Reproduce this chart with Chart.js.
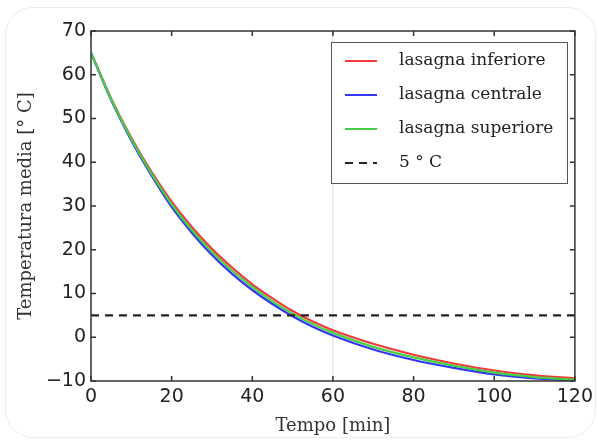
<!DOCTYPE html>
<html lang="it">
<head>
<meta charset="utf-8">
<title>Temperatura media lasagne</title>
<style>
  html, body { margin: 0; padding: 0; background: #fff; }
  #box { position: relative; width: 598px; height: 441px; }
  /* bordo arrotondato della "card" */
  #card { position: absolute; left: 5px; top: 7px; right: 2px; bottom: 3px; border: 1px solid #ececec; border-radius: 28px; }
  canvas { position: absolute; left: 0; top: 0; }
</style>
</head>
<body>
<div id="box">
  <div id="card"></div>
  <canvas id="grafico" width="598" height="441"></canvas>
</div>

<script src="https://cdn.jsdelivr.net/npm/chart.js@4.4.0/dist/chart.umd.min.js"></script>
<script>
// dati
var tempi     = [0, 5, 10, 15, 20, 25, 30, 35, 40, 45, 50, 55, 60, 70, 80, 90, 100, 110, 120];
var inferiore = [65, 54.6, 45.6, 37.8, 31.0, 25.2, 20.2, 15.9, 12.1, 8.9, 6.0, 3.6, 1.6, -1.5, -4.0, -6.0, -7.6, -8.7, -9.4];
var centrale  = [65, 54.2, 45.0, 37.0, 29.8, 23.9, 18.8, 14.5, 10.8, 7.6, 4.8, 2.4, 0.4, -2.8, -5.2, -7.0, -8.5, -9.4, -9.9];
var superiore = [65, 54.4, 45.3, 37.4, 30.4, 24.5, 19.5, 15.2, 11.5, 8.2, 5.4, 3.0, 1.0, -2.2, -4.6, -6.5, -8.1, -9.1, -9.7];
var soglia    = 5;
var xTicks = [0, 20, 40, 60, 80, 100, 120];
var yTicks = [-10, 0, 10, 20, 30, 40, 50, 60, 70];

function punti(ys) {
  var out = [];
  for (var i = 0; i < tempi.length; i++) out.push({ x: tempi[i], y: ys[i] });
  return out;
}

var serif = "'DejaVu Serif', 'Liberation Serif', serif";
var sans = "'DejaVu Sans', sans-serif";

// cornice con tacche verso l'interno + legenda dentro l'area
var cornice = {
  id: 'cornice',
  afterDatasetsDraw: function (chart) {
    var ctx = chart.ctx, a = chart.chartArea;
    var sx = chart.scales.x, sy = chart.scales.y;
    ctx.save();
    ctx.strokeStyle = '#333';
    ctx.lineWidth = 1.5;
    ctx.strokeRect(a.left, a.top, a.right - a.left, a.bottom - a.top);
    ctx.beginPath();
    xTicks.forEach(function (v) {
      var px = sx.getPixelForValue(v);
      ctx.moveTo(px, a.bottom); ctx.lineTo(px, a.bottom - 5);
      ctx.moveTo(px, a.top); ctx.lineTo(px, a.top + 5);
    });
    yTicks.forEach(function (v) {
      var py = sy.getPixelForValue(v);
      ctx.moveTo(a.left, py); ctx.lineTo(a.left + 5, py);
      ctx.moveTo(a.right, py); ctx.lineTo(a.right - 5, py);
    });
    ctx.stroke();

    // legenda
    var voci = chart.data.datasets.filter(function (d) { return d.inLegenda; });
    var lx = 331, ly = 42, lw = 236, lh = 141;
    ctx.fillStyle = '#fff';
    ctx.fillRect(lx, ly, lw, lh);
    ctx.strokeStyle = '#555';
    ctx.lineWidth = 1;
    ctx.strokeRect(lx + 0.5, ly + 0.5, lw, lh);
    ctx.font = '17px ' + serif;
    ctx.textBaseline = 'middle';
    voci.forEach(function (d, i) {
      var y = ly + 19 + i * 34;
      ctx.beginPath();
      ctx.strokeStyle = d.borderColor;
      ctx.lineWidth = 2;
      ctx.setLineDash(d.borderDash || []);
      ctx.moveTo(lx + 14, y); ctx.lineTo(lx + 46, y);
      ctx.stroke();
      ctx.setLineDash([]);
      ctx.fillStyle = '#222';
      ctx.fillText(d.label, lx + 68, y);
    });
    ctx.restore();
  }
};

var ctx = document.getElementById('grafico').getContext('2d');
var chart = new Chart(ctx, {
  type: 'line',
  data: {
    datasets: [
      { label: 'lasagna inferiore', data: punti(inferiore), borderColor: '#f23a3a', order: 3, inLegenda: true },
      { label: 'lasagna centrale', data: punti(centrale), borderColor: '#3535f5', order: 2, inLegenda: true },
      { label: 'lasagna superiore', data: punti(superiore), borderColor: '#45d045', order: 1, inLegenda: true },
      { label: '5 \u00b0 C', data: [{ x: 0, y: soglia }, { x: 120, y: soglia }], borderColor: '#222',
        borderDash: [8, 6], order: 0, inLegenda: true, tension: 0 },
      { label: 'linea60', data: [{ x: 60, y: -10 }, { x: 60, y: 70 }], borderColor: '#dcdcdc',
        borderWidth: 1, order: 4, tension: 0 }
    ]
  },
  options: {
    responsive: false,
    animation: false,
    devicePixelRatio: 1,
    layout: { padding: { top: 31, right: 22, left: 0, bottom: 0 } },
    elements: {
      point: { radius: 0 },
      line: { borderWidth: 2.2, tension: 0.4, cubicInterpolationMode: 'monotone', fill: false }
    },
    plugins: { legend: { display: false }, tooltip: { enabled: false } },
    scales: {
      x: {
        type: 'linear', min: 0, max: 120,
        afterFit: function (s) { s.height = 60; },
        afterBuildTicks: function (s) { s.ticks = xTicks.map(function (v) { return { value: v }; }); },
        grid: { display: false, drawTicks: false },
        border: { display: false },
        ticks: { padding: 5, color: '#222', font: { family: sans, size: 19 } },
        title: { display: true, text: 'Tempo [min]', color: '#333', padding: { top: 1 }, font: { family: serif, size: 18 } }
      },
      y: {
        type: 'linear', min: -10, max: 70,
        afterFit: function (s) { s.width = 91; },
        afterBuildTicks: function (s) { s.ticks = yTicks.map(function (v) { return { value: v }; }); },
        grid: { display: false, drawTicks: false },
        border: { display: false },
        ticks: {
          padding: 5, color: '#222', font: { family: sans, size: 19 },
          callback: function (v) { return String(v).replace('-', '\u2212'); }
        },
        title: { display: true, text: 'Temperatura media [\u00b0 C]', color: '#333', padding: { top: 16 }, font: { family: serif, size: 18 } }
      }
    }
  },
  plugins: [cornice]
});
</script>
</body>
</html>
